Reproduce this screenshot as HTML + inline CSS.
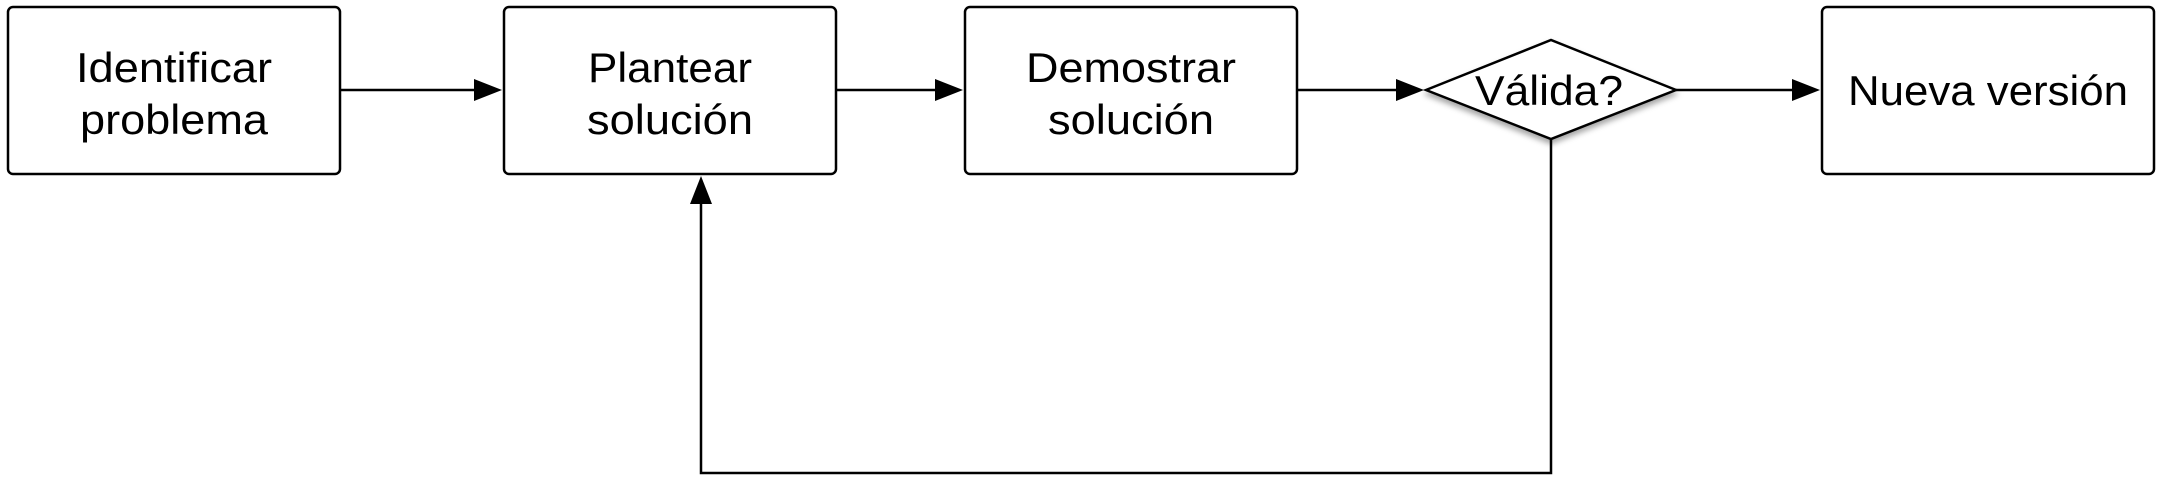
<!DOCTYPE html>
<html><head><meta charset="utf-8"><style>
html,body{margin:0;padding:0;background:#fff;width:2161px;height:480px;overflow:hidden}
text{font-family:"Liberation Sans",sans-serif;font-size:42px;fill:#000}
</style></head><body>
<svg width="2161" height="480" viewBox="0 0 2161 480" xmlns="http://www.w3.org/2000/svg">
<defs>
<filter id="sh" x="-20%" y="-20%" width="140%" height="150%"><feDropShadow dx="0" dy="4" stdDeviation="3" flood-color="#000" flood-opacity="0.35"/></filter>
</defs>
<g fill="#fff" stroke="#000" stroke-width="2.5">
<rect x="8" y="7" width="332" height="167" rx="5"/>
<rect x="504" y="7" width="332" height="167" rx="5"/>
<rect x="965" y="7" width="332" height="167" rx="5"/>
<rect x="1822" y="7" width="332" height="167" rx="5"/>
<polygon points="1426,90 1551,40 1676,90 1551,139" filter="url(#sh)"/>
</g>
<g stroke="#000" stroke-width="2.5" fill="none">
<line x1="340" y1="90" x2="480" y2="90"/>
<line x1="836" y1="90" x2="942" y2="90"/>
<line x1="1297" y1="90" x2="1402" y2="90"/>
<line x1="1676" y1="90" x2="1798" y2="90"/>
<polyline points="1551,139 1551,473 701,473 701,198"/>
</g>
<g fill="#000">
<polygon points="502,90 474,79 474,101"/>
<polygon points="963,90 935,79 935,101"/>
<polygon points="1424,90 1396,79 1396,101"/>
<polygon points="1820,90 1792,79 1792,101"/>
<polygon points="701,176 690,204 712,204"/>
</g>
<g text-anchor="middle">
<text x="174" y="82" textLength="196" lengthAdjust="spacingAndGlyphs">Identificar</text>
<text x="174" y="134" textLength="188" lengthAdjust="spacingAndGlyphs">problema</text>
<text x="670" y="82" textLength="164" lengthAdjust="spacingAndGlyphs">Plantear</text>
<text x="670" y="134" textLength="166" lengthAdjust="spacingAndGlyphs">solución</text>
<text x="1131" y="82" textLength="210" lengthAdjust="spacingAndGlyphs">Demostrar</text>
<text x="1131" y="134" textLength="166" lengthAdjust="spacingAndGlyphs">solución</text>
<text x="1549" y="105" textLength="148" lengthAdjust="spacingAndGlyphs">Válida?</text>
<text x="1988" y="105" textLength="280" lengthAdjust="spacingAndGlyphs">Nueva versión</text>
</g>
</svg>
</body></html>
